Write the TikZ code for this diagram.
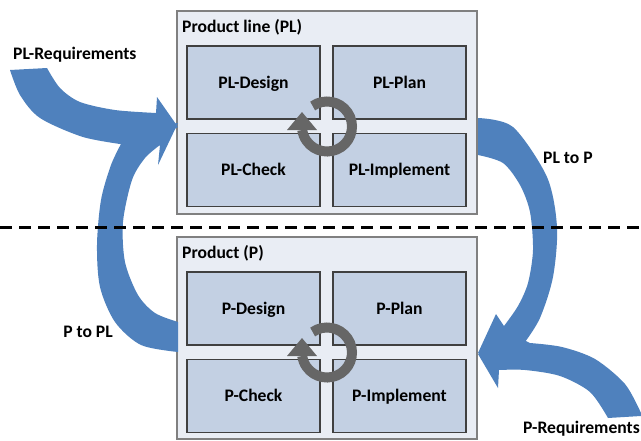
\documentclass[tikz,border=0pt]{standalone}
\usepackage{fontspec}
\setmainfont{Carlito}
\definecolor{outerfill}{RGB}{233,237,244}
\definecolor{boxgray}{RGB}{128,128,128}
\definecolor{innerfill}{RGB}{195,208,227}
\definecolor{innerline}{RGB}{64,64,64}
\definecolor{arrowblue}{RGB}{79,129,189}
\definecolor{ringgray}{RGB}{102,102,102}
\begin{document}
\begin{tikzpicture}[x=1pt,y=-1pt,
  lbl/.style={font=\bfseries\fontsize{17.6}{20}\selectfont, inner sep=0pt},
  outerbox/.style={draw=boxgray, line width=1.8pt, fill=outerfill, inner sep=0pt},
  innerbox/.style={draw=innerline, line width=1.3pt, fill=innerfill, minimum width=133pt, minimum height=73pt, inner sep=0pt, text height=12pt, text depth=1pt, font=\bfseries\fontsize{17.6}{20}\selectfont},
  ring/.style={draw=ringgray, line width=10pt},
  ringhead/.style={fill=ringgray},
  blockarrow/.style={fill=arrowblue},
  divider/.style={line width=3pt, dash pattern=on 12pt off 7pt}]
\useasboundingbox (0,0) rectangle (641,440);

% outer boxes
\node[outerbox, minimum width=300pt, minimum height=203pt] (plbox) at (327,112.5) {};
\node[outerbox, minimum width=300pt, minimum height=202pt] (pbox) at (327,338) {};
\node[lbl, anchor=base west] (pltitle) at (182,32) {Product line (PL)};
\node[lbl, anchor=base west] (ptitle) at (182,258) {Product (P)};

% inner boxes
\node[innerbox] (pldesign) at (253.5,82.5) {PL-Design};
\node[innerbox] (plplan) at (399.5,82.5) {PL-Plan};
\node[innerbox] (plcheck) at (253.5,170) {PL-Check};
\node[innerbox] (plimpl) at (399.5,170) {PL-Implement};
\node[innerbox] (pdesign) at (253.5,308.5) {P-Design};
\node[innerbox] (pplan) at (399.5,308.5) {P-Plan};
\node[innerbox] (pcheck) at (253.5,396) {P-Check};
\node[innerbox] (pimpl) at (399.5,396) {P-Implement};

% cycle rings
\draw[ring] (327,126.5) ++(-125:25) arc[start angle=-125, end angle=172, radius=25];
\fill[ringhead] (287,130) -- (317,130) -- (302,112) -- cycle;
\draw[ring] (327,352.5) ++(-125:25) arc[start angle=-125, end angle=172, radius=25];
\fill[ringhead] (287,356) -- (317,356) -- (302,338) -- cycle;

% right block arrows
\fill[blockarrow] (478,118) -- plot[smooth] coordinates {(478,118) (513,127) (547,177) (557,227) (553,277) (540,318) (525,342)} -- (532,350) -- (478,353) -- (496,314) -- plot[smooth] coordinates {(504,326) (518,306) (528,283) (533,250) (530,212) (520,185) (503,163) (478,155)} -- cycle;
\fill[blockarrow] (608,418) -- plot[smooth] coordinates {(608,418) (590,392) (560,376) (525,370) (499,370)} -- (498,388) -- (478,354) -- (506,331) -- plot[smooth] coordinates {(530,343) (562,347) (595,359) (625,384) (641,413)} -- (641,416) -- cycle;

% left block arrows
\fill[blockarrow] (10,70) -- (47,68) -- plot[smooth] coordinates {(47,68) (60,88) (80,102) (115,110) (156,113)} -- (157,97) -- (178,127) -- (125,155) -- plot[smooth] coordinates {(127,145) (83,137) (40,118) (20,95) (10,70)} -- cycle;
\fill[blockarrow] (178,352) -- plot[smooth] coordinates {(178,352) (141,345) (115,322) (100,287) (97,245) (101,200) (111,165) (122,142)} -- (118,132) -- (178,123) -- (158,165) -- plot[smooth] coordinates {(160,145) (145,158) (132,180) (123,222) (125,262) (138,295) (155,313) (178,322)} -- cycle;

% arrow labels
\node[lbl, anchor=base west] (lplreq) at (13,59) {PL-Requirements};
\node[lbl, anchor=base west] (lpltop) at (543,163) {PL to P};
\node[lbl, anchor=base east] (lptopl) at (113,337) {P to PL};
\node[lbl, anchor=base west] (lpreq) at (523,433.5) {P-Requirements};

% divider
\coordinate (dl) at (0,227);
\coordinate (dr) at (641,227);
\draw[divider] (dl) -- (dr);
\end{tikzpicture}
\end{document}
